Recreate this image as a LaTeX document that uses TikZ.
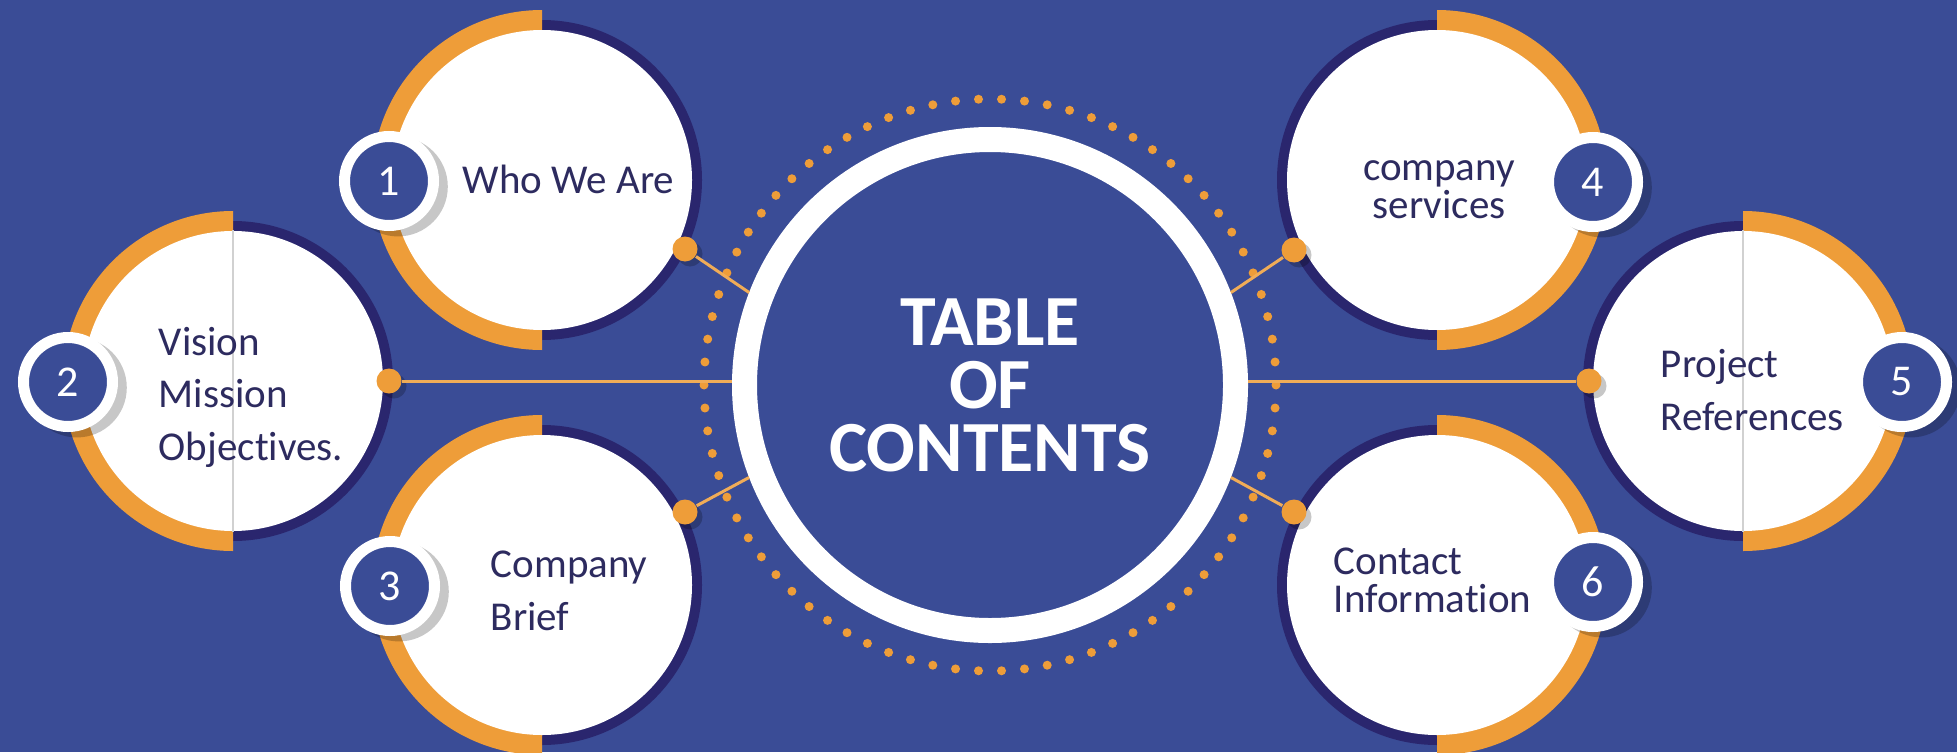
\documentclass[tikz,border=0pt]{standalone}
\usepackage{fontspec}
\setmainfont{Carlito}[Ligatures=NoCommon]
\usepackage{xcolor}
\usetikzlibrary{shapes}
\usetikzlibrary{shadows}

\definecolor{bgblue}{RGB}{58,76,150}
\definecolor{rimnavy}{RGB}{42,38,110}
\definecolor{tocorange}{RGB}{238,157,57}
\definecolor{txtnavy}{RGB}{45,43,95}

\begin{document}
\begin{tikzpicture}[thick, x=0.5pt, y=0.5pt,
	disc/.style={circle, fill=white, minimum size=150pt, inner sep=0pt},
	hub/.style={circle, fill=bgblue, draw=white, line width=12.5pt, minimum size=245.5pt, inner sep=0pt,
		text=white, align=center, font=\fontsize{36}{31.5}\selectfont\bfseries},
	badge/.style={circle, fill=bgblue, draw=white, line width=5.5pt, minimum size=44.5pt, inner sep=0pt,
		text=white, font=\fontsize{22}{22}\selectfont,
		drop shadow={shadow xshift=4pt, shadow yshift=-2.5pt, shadow scale=1.12, opacity=.22, fill=black}},
	knob/.style={circle, fill=tocorange, minimum size=12.5pt, inner sep=0pt,
		drop shadow={shadow xshift=2.5pt, shadow yshift=-2.5pt, opacity=.22, fill=black}},
	link/.style={tocorange!85!white, line width=1.5pt},
	seam/.style={black!18, line width=0.7pt},
	entry/.style={text=txtnavy, inner sep=0pt, align=left, anchor=west, font=\fontsize{20.5}{26.25}\selectfont},
	tight/.style={font=\fontsize{20.5}{19}\selectfont}]
	% background
	\useasboundingbox (0,0) rectangle (1957,752);
	\clip (0,0) rectangle (1957,752);
	\fill[bgblue] (0,0) rectangle (1957,752);
	% dotted ring round the title
	\foreach \a in {0,...,77}
		\fill[tocorange] ({990+286*cos(4.61538*\a)},{367+286*sin(4.61538*\a)}) circle[radius=4.5];
	% rims: navy on one half, orange on the other
	\foreach \cx/\cy/\s in {542/572/1, 233/371/1, 542/167/1, 1437/572/-1, 1743/371/-1, 1437/167/-1}{
		\fill[rimnavy] (\cx,\cy) circle[radius=160];
		\fill[tocorange] (\cx,\cy+170) arc[start angle=90, delta angle=180*\s, radius=170] -- cycle;
	}
	\node[disc] (c1) at (542,572) {};
	\node[disc] (c2) at (233,371) {};
	\node[disc] (c3) at (542,167) {};
	\node[disc] (c4) at (1437,572) {};
	\node[disc] (c5) at (1743,371) {};
	\node[disc] (c6) at (1437,167) {};
	\draw[seam] (c2.north) -- (c2.south);
	\draw[seam] (c5.north) -- (c5.south);

	\node[hub] (hub) at (990,367) {TABLE\\OF\\CONTENTS};

	% connectors
	\node[knob] (k1) at (685,503) {};
	\node[knob] (k2) at (389,371) {};
	\node[knob] (k3) at (685,240) {};
	\node[knob] (k4) at (1294,502) {};
	\node[knob] (k5) at (1589,371) {};
	\node[knob] (k6) at (1294,240) {};
	\draw[link] (k1) -- (hub.159);
	\draw[link] (k2) -- (hub.west |- k2);
	\draw[link] (k3) -- (hub.201);
	\draw[link] (k4) -- (hub.21);
	\draw[link] (k5) -- (hub.east |- k5);
	\draw[link] (k6) -- (hub.-21);

	% numbers
	\node[badge] (b1) at (389,571) {1};
	\node[badge] (b2) at (68,370) {2};
	\node[badge] (b3) at (390,166) {3};
	\node[badge] (b4) at (1593,570) {4};
	\node[badge] (b5) at (1902,370) {5};
	\node[badge] (b6) at (1593,170) {6};

	% entries
	\node[entry] (t1) at (462,573) {Who We Are};
	\node[entry] (t2) at (158,355) {Vision\\Mission\\Objectives.};
	\node[entry] (t3) at (490,161) {Company\\Brief};
	\node[entry, tight, anchor=center, align=center] (t4) at (1439,562) {company\\services};
	\node[entry] (t5) at (1660,362) {Project\\References};
	\node[entry, tight] (t6) at (1333,172) {Contact\\Information};
\end{tikzpicture}
\end{document}
